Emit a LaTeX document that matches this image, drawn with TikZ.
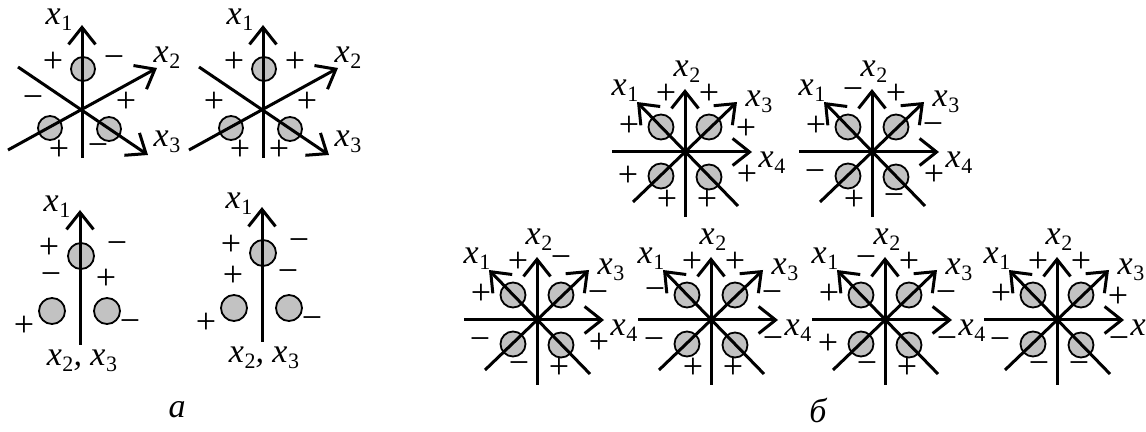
\documentclass[tikz,border=0pt]{standalone}
\usepackage{fontspec}
\setmainfont{Liberation Serif}
\usetikzlibrary{arrows.meta}

\definecolor{ballgray}{gray}{0.76}

\tikzset{
  axis/.style={line width=1.5pt,-{Straight Barb[length=8.5pt,width=13.5pt]}},
  bare axis/.style={line width=1.5pt},
  ball/.style={draw,line width=0.9pt,fill=ballgray},
  sgn/.style={font=\fontsize{18}{18}\selectfont,inner sep=0pt},
  lbl/.style={font=\fontsize{17}{17}\selectfont\itshape,inner sep=0pt},
}

% axis label x with index
\newcommand\ax[1]{x\kern0.3pt\raisebox{-3pt}{\fontsize{11}{11}\selectfont\upshape #1}}

% three axes in space, six signs
\newcommand\threeax[7]{%
\begin{scope}[#1]
  \draw[ball] (1,-41) circle (12);
  \draw[ball] (-32,18) circle (12);
  \draw[ball] (27,19) circle (12);
  \draw[axis] (0,48) -- (0,-85);
  \draw[axis] (-74,40) -- (75,-42);
  \draw[axis] (-64,-43) -- (66,45);
  \node[lbl] (x1) at (-23,-90) {\ax{1}};
  \node[lbl] (x2) at (85,-52) {\ax{2}};
  \node[lbl] (x3) at (85,32) {\ax{3}};
  \node[sgn] (s1) at (-29,-48) {#2};
  \node[sgn] (s2) at (32,-48) {#3};
  \node[sgn] (s3) at (-49,-8) {#4};
  \node[sgn] (s4) at (44,-8) {#5};
  \node[sgn] (s5) at (-23,40) {#6};
  \node[sgn] (s6) at (16,40) {#7};
\end{scope}}

% the same seen along x2 = x3
\newcommand\planeax[7]{%
\begin{scope}[#1]
  \draw[ball] (1,-55) circle (13);
  \draw[ball] (-28,0) circle (13);
  \draw[ball] (27,0) circle (13);
  \draw[axis] (0,34) -- (0,-101);
  \node[lbl] (x1) at (-23,-104) {\ax{1}};
  \node[lbl] (x23) at (2,50) {\ax{2}, \ax{3}};
  \node[sgn] (s1) at (-31,-63) {#2};
  \node[sgn] (s2) at (37,-63) {#3};
  \node[sgn] (s3) at (-29,-32) {#4};
  \node[sgn] (s4) at (26,-32) {#5};
  \node[sgn] (s5) at (-56,15) {#6};
  \node[sgn] (s6) at (50,15) {#7};
\end{scope}}

% four axes, eight signs
\newcommand\fourax[9]{%
\begin{scope}[#1]
  \draw[ball] (-24,-25) circle (12.5);
  \draw[ball] (24,-25) circle (12.5);
  \draw[ball] (-24,24) circle (12.5);
  \draw[ball] (24,25) circle (12.5);
  \draw[bare axis] (0,65) -- (0,0);
  \draw[axis] (0,0) -- (0,-63);
  \draw[axis] (-73,0) -- (67,0);
  \draw[axis] (53,54) -- (-48,-50);
  \draw[axis] (-52,50) -- (52,-50);
  \node[lbl] (x1) at (-60,-61) {\ax{1}};
  \node[lbl] (x2) at (2,-80) {\ax{2}};
  \node[lbl] (x3) at (74,-50) {\ax{3}};
  \node[lbl] (x4) at (87,11) {\ax{4}};
  \node[sgn] (s1) at (-19,-58) {#2};
  \node[sgn] (s2) at (24,-58) {#3};
  \node[sgn] (s3) at (-56,-26) {#4};
  \node[sgn] (s4) at (61,-23) {#5};
  \node[sgn] (s5) at (-57,24) {#6};
  \node[sgn] (s6) at (62,23) {#7};
  \node[sgn] (s7) at (-18,48) {#8};
  \node[sgn] (s8) at (22,48) {#9};
\end{scope}}

\begin{document}
\begin{tikzpicture}[x=0.5pt,y=-0.5pt]
\useasboundingbox (0,0) rectangle (1146,432);

% a
\threeax{shift={(82,110)},name prefix=a1-}{+}{−}{−}{+}{+}{−}
\threeax{shift={(263,110)},name prefix=a2-}{+}{+}{+}{+}{+}{+}
\planeax{shift={(80,311)},name prefix=a3-}{+}{−}{−}{+}{+}{−}
\planeax{shift={(262,308)},name prefix=a4-}{+}{−}{+}{−}{+}{−}

% b, upper row
\fourax{shift={(685,152)},name prefix=b1-}{+}{+}{+}{+}{+}{+}{+}{+}
\fourax{shift={(872,152)},name prefix=b2-}{−}{+}{+}{−}{−}{+}{+}{−}

% b, lower row
\fourax{shift={(537,320)},name prefix=b3-}{+}{−}{+}{−}{−}{+}{−}{+}
\fourax{shift={(711,320)},name prefix=b4-}{+}{+}{−}{−}{−}{−}{+}{+}
\fourax{shift={(885,320)},name prefix=b5-}{−}{+}{+}{−}{+}{−}{−}{+}
\fourax{shift={(1057,320)},name prefix=b6-}{+}{+}{+}{+}{−}{−}{−}{−}

\node[lbl] (capa) at (177,410) {а};
\node[lbl] (capb) at (818,410) {б};
\end{tikzpicture}
\end{document}
